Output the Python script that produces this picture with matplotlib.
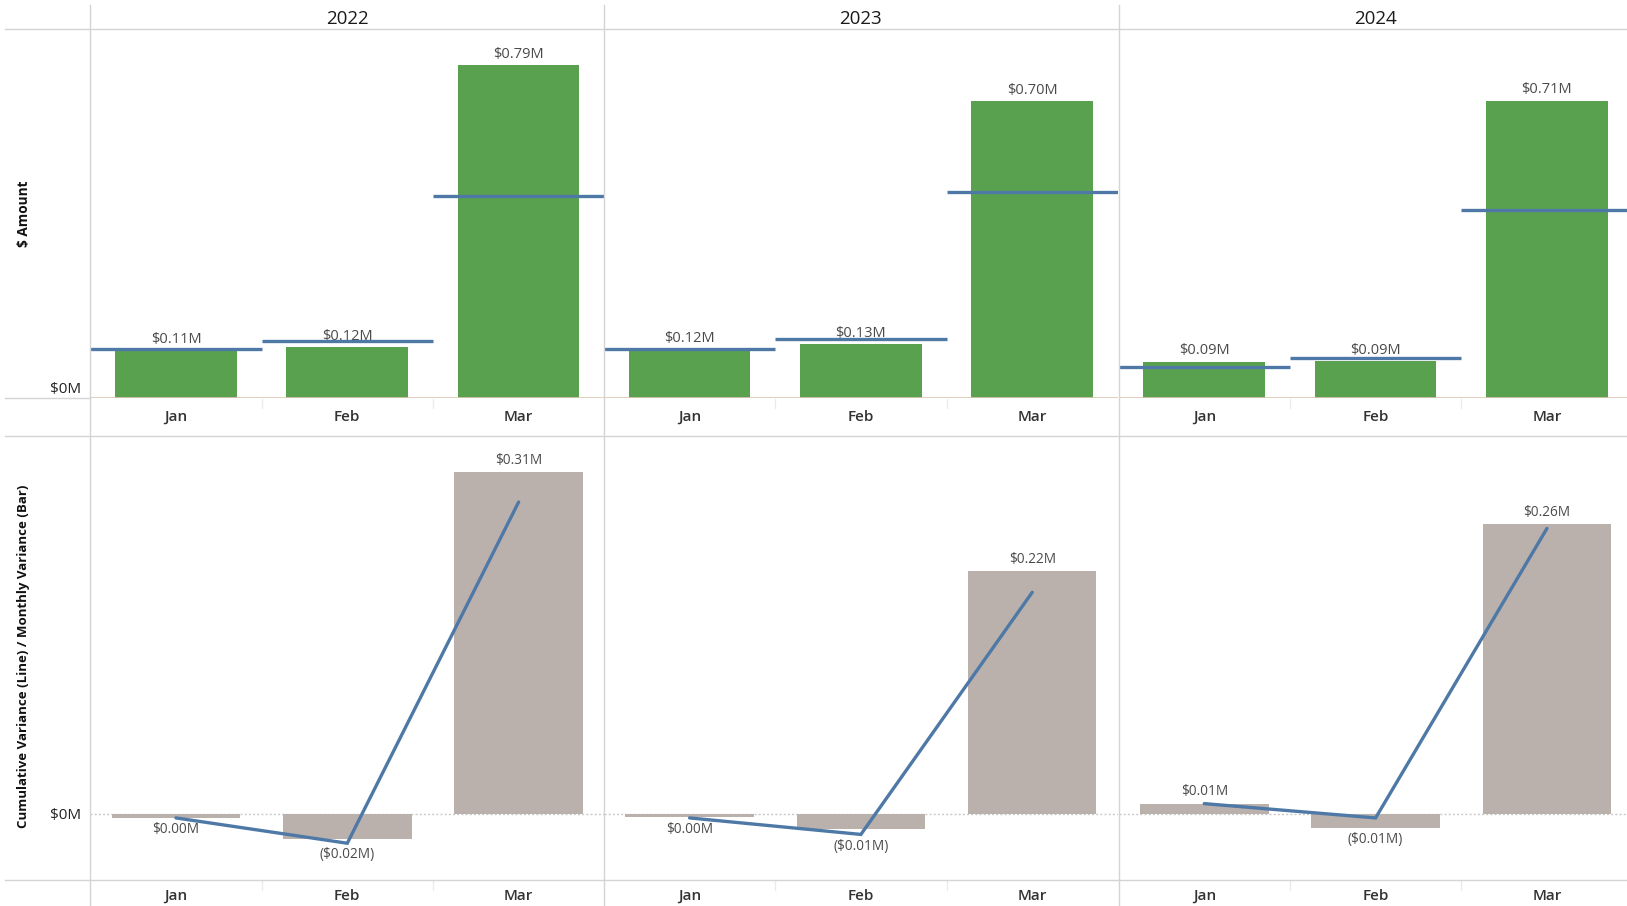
import matplotlib.pyplot as plt
from matplotlib.lines import Line2D

plt.rcParams['font.family'] = ['Open Sans', 'DejaVu Sans']

years = ["2022", "2023", "2024"]
months = ["Jan", "Feb", "Mar"]

# $ amount (green bars) and target (blue reference lines), in $M
amount = [[0.113, 0.121, 0.79], [0.116, 0.128, 0.705], [0.086, 0.087, 0.706]]
target = [[0.116, 0.135, 0.48], [0.117, 0.140, 0.488], [0.074, 0.096, 0.446]]

# monthly variance (bars) and cumulative variance (line), in $M
monthly_var = [[-0.004, -0.023, 0.31], [-0.003, -0.014, 0.22], [0.009, -0.013, 0.263]]
cumulative_var = [[-0.004, -0.027, 0.283], [-0.004, -0.019, 0.201], [0.009, -0.004, 0.259]]

W, H = 1627, 906
GREEN = "#59A14F"
BLUE = "#4E79A7"
GREY_BAR = "#BAB0AC"
GRID = "#D4D4D4"
LABEL = "#4A4A4A"


def fx(x):
    return x / W


def fy(y):
    return 1 - y / H


def money(v):
    r = round(v, 2)
    if r < 0:
        return "(${:.2f}M)".format(abs(r))
    return "${:.2f}M".format(abs(r))


fig = plt.figure(figsize=(W / 100, H / 100), dpi=100)

panel_left = [90.3, 603.9, 1118.6]
panel_w = 514
top_y0, top_y1 = 29, 398
bot_y0, bot_y1 = 436, 880

for i, yr in enumerate(years):
    x0 = panel_left[i]
    # top panel
    ax = fig.add_axes([fx(x0), fy(top_y1), panel_w / W, (top_y1 - top_y0) / H])
    ax.bar(range(3), amount[i], width=0.71, color=GREEN, zorder=2)
    for j in range(3):
        ax.hlines(target[i][j], j - 0.5, j + 0.5, color=BLUE, lw=2.4, zorder=3)
        ax.annotate(money(amount[i][j]), (j, amount[i][j]), xytext=(0, 2.5),
                    textcoords="offset points", ha="center", va="bottom",
                    fontsize=10.5, color=LABEL, zorder=1)
    ax.axhline(0, color="#DCC6B4", lw=1.2, zorder=4)
    ax.set_xlim(-0.5, 2.5)
    ax.set_ylim(0, 0.876)
    ax.axis("off")

    # bottom panel
    bx = fig.add_axes([fx(x0), fy(bot_y1), panel_w / W, (bot_y1 - bot_y0) / H])
    bx.axhline(0, color="#C8C8C8", lw=1, ls=(0, (1.5, 1.5)), zorder=1)
    bx.bar(range(3), monthly_var[i], width=0.75, color=GREY_BAR, zorder=2)
    bx.plot(range(3), cumulative_var[i], color=BLUE, lw=2.4, zorder=3,
            solid_capstyle="round", solid_joinstyle="miter")
    for j in range(3):
        v = monthly_var[i][j]
        if v > 0:
            y = max(v, cumulative_var[i][j])
            bx.annotate(money(v), (j, y), xytext=(0, 3), textcoords="offset points",
                        ha="center", va="bottom", fontsize=9.8, color=LABEL)
        else:
            y = min(v, cumulative_var[i][j])
            bx.annotate(money(v), (j, y), xytext=(0, -3), textcoords="offset points",
                        ha="center", va="top", fontsize=9.8, color=LABEL)
    bx.set_xlim(-0.5, 2.5)
    bx.set_ylim(-0.0604, 0.343)
    bx.axis("off")

    # year header and month labels
    cw = panel_w / 3
    fig.text(fx(x0 + panel_w / 2), fy(19), yr, ha="center", va="center",
             fontsize=13.5, color="#1A1A1A")
    for j, m in enumerate(months):
        cx = x0 + cw * (j + 0.5)
        fig.text(fx(cx), fy(417), m, ha="center", va="center", fontsize=11,
                 fontweight="semibold", color="#333333")
        fig.text(fx(cx), fy(896), m, ha="center", va="center", fontsize=11,
                 fontweight="semibold", color="#333333")
        if j > 0:
            bx_x = x0 + cw * j
            for yy0, yy1 in [(399, 408), (881, 890)]:
                fig.add_artist(Line2D([fx(bx_x), fx(bx_x)], [fy(yy0), fy(yy1)],
                                      color="#EBEBEB", lw=1))

# frame lines
for yy in [29, 436, 880]:
    fig.add_artist(Line2D([fx(5), 1], [fy(yy), fy(yy)], color=GRID, lw=1))
fig.add_artist(Line2D([fx(5), fx(90)], [fy(398), fy(398)], color=GRID, lw=1))
for xx in panel_left:
    fig.add_artist(Line2D([fx(xx), fx(xx)], [fy(5), 0], color=GRID, lw=1))

# axis labels
fig.text(fx(81), fy(390), "$0M", ha="right", va="center", fontsize=11, color="#222222")
fig.text(fx(81), fy(815), "$0M", ha="right", va="center", fontsize=11, color="#222222")
fig.text(fx(24), fy(214), "$ Amount", rotation=90, ha="center", va="center",
         fontsize=9.8, fontweight="bold", color="#111111")
fig.text(fx(24), fy(656), "Cumulative Variance (Line) / Monthly Variance (Bar)",
         rotation=90, ha="center", va="center", fontsize=9.5, fontweight="bold",
         color="#111111")

fig.savefig("out.png", dpi=100)
